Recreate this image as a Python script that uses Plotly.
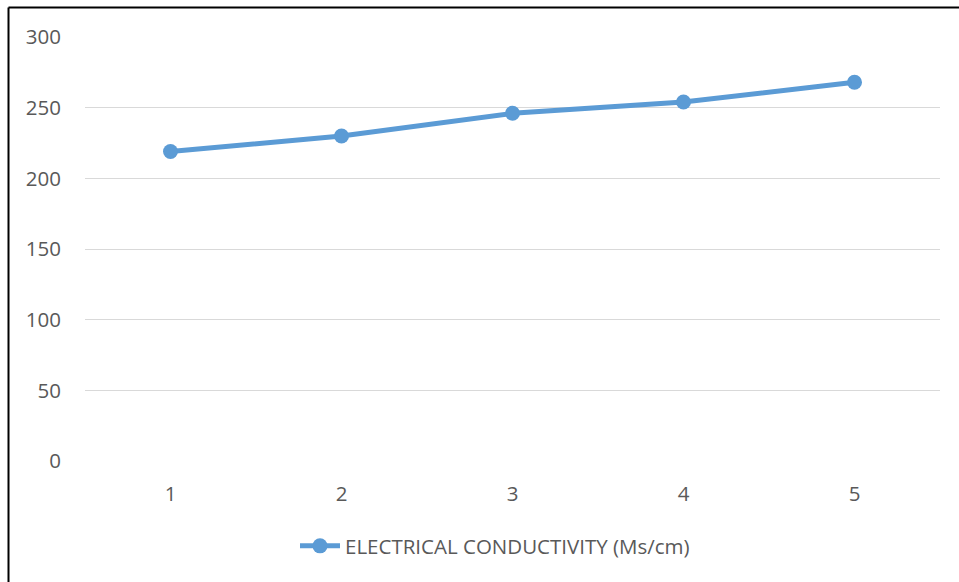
import plotly.graph_objects as go

samples = [1, 2, 3, 4, 5]
conductivity = [219, 230, 246, 254, 268]
series_name = "ELECTRICAL CONDUCTIVITY (Ms/cm)"
y_ticks = [0, 50, 100, 150, 200, 250, 300]

W, H = 959, 582
L, R, T, B = 85, 19, 37, 121
pw, ph = W - L - R, H - T - B

def px_x(x):
    return (x - L) / pw

def px_y(y):
    return (H - B - y) / ph

fig = go.Figure()
fig.add_trace(go.Scatter(
    x=samples, y=conductivity, name=series_name,
    mode="lines+markers",
    line=dict(color="#5B9BD5", width=5),
    marker=dict(color="#5B9BD5", size=15),
    showlegend=True,
))

font_family = "Open Sans, Liberation Sans, sans-serif"
fs = 20.5
fig.update_layout(
    width=W, height=H,
    margin=dict(l=L, r=R, t=T, b=B),
    paper_bgcolor="white", plot_bgcolor="white",
    font=dict(family=font_family, size=fs, color="#595959"),
    xaxis=dict(range=[0.5, 5.5], tickvals=samples, ticktext=[str(s) for s in samples],
               showgrid=False, zeroline=False, showline=False, ticks="",
               ticklabelstandoff=18, tickfont=dict(size=fs, color="#595959")),
    yaxis=dict(range=[0, 300], tickvals=y_ticks, showgrid=True, gridcolor="#D9D9D9",
               gridwidth=1, zeroline=False, showline=False, ticks="",
               ticklabelstandoff=23, tickfont=dict(size=fs, color="#595959")),
    legend=dict(orientation="h", x=px_x(495), xanchor="center", y=px_y(546), yanchor="middle",
                font=dict(size=fs, color="#595959"), itemwidth=40),
    shapes=[
        dict(type="line", xref="paper", yref="paper", x0=px_x(8.5), x1=px_x(962),
             y0=px_y(7.5), y1=px_y(7.5), line=dict(color="black", width=2)),
        dict(type="line", xref="paper", yref="paper", x0=px_x(8.5), x1=px_x(8.5),
             y0=px_y(7.5), y1=px_y(590), line=dict(color="black", width=2)),
    ],
)

fig.write_html("out.html")
